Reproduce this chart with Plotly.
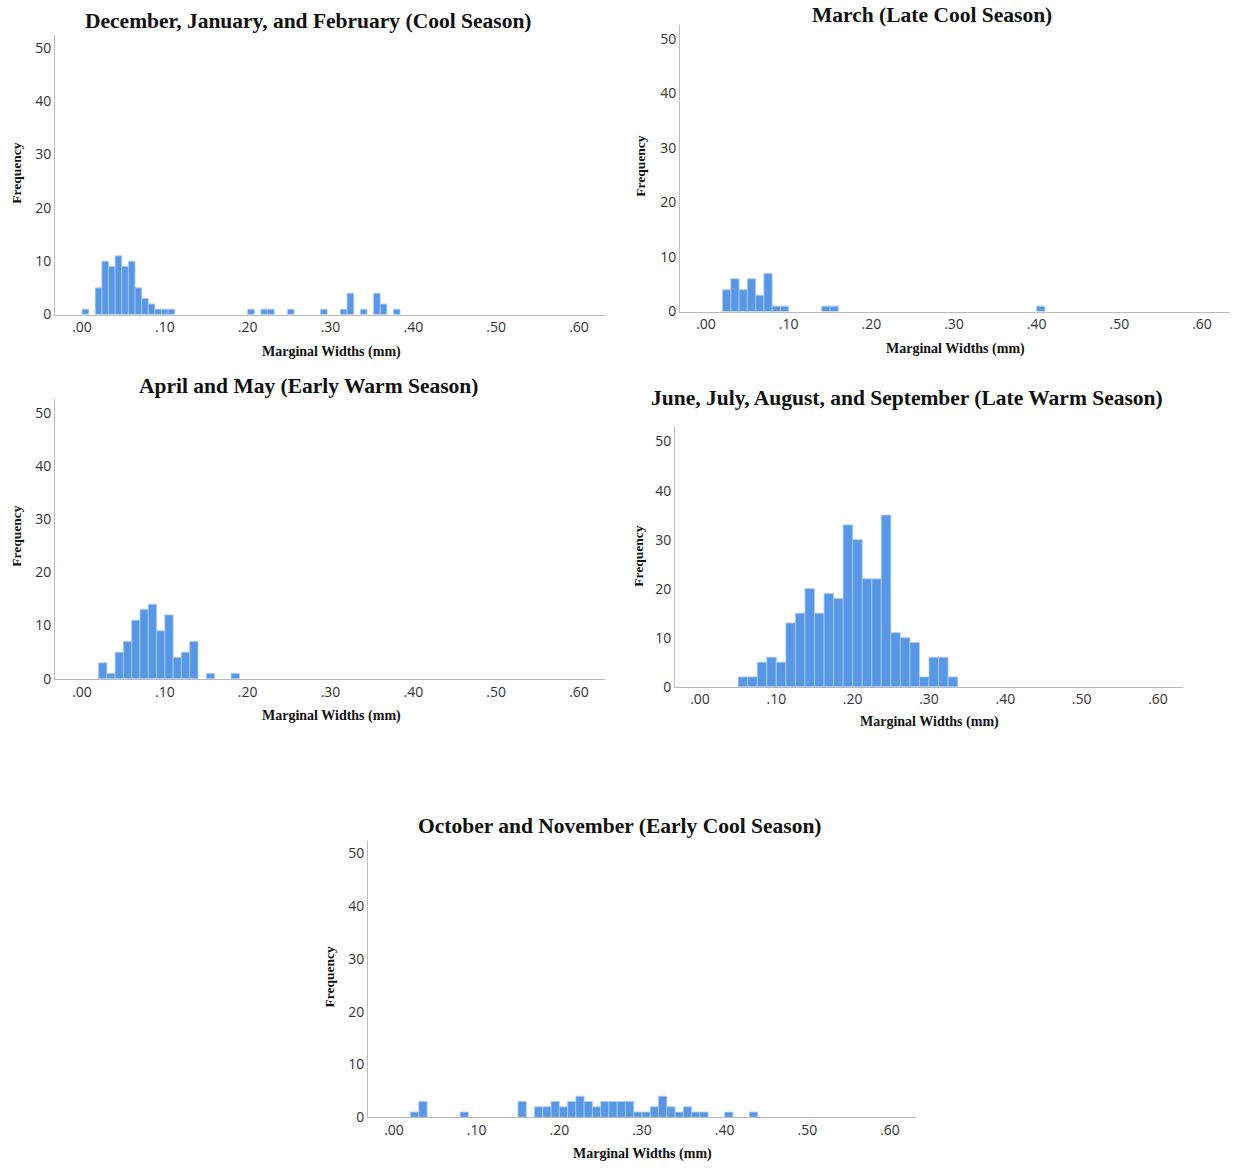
import plotly.graph_objects as go

# ---------------- data ----------------
tick_vals = [0.0, 0.1, 0.2, 0.3, 0.4, 0.5, 0.6]
tick_text = [".00", ".10", ".20", ".30", ".40", ".50", ".60"]
y_ticks = [0, 10, 20, 30, 40, 50]

titles = [
    "December, January, and February (Cool Season)",
    "March (Late Cool Season)",
    "April and May (Early Warm Season)",
    "June, July, August, and September (Late Warm Season)",
    "October and November (Early Cool Season)",
]
x_title = "Marginal Widths (mm)"
y_title = "Frequency"

# counts per bin, bins start at bin_start and have width bin_width
djf_start, djf_width = 0.0, 0.008
djf_counts = [1, 0, 5, 10, 9, 11, 9, 10, 5, 3, 2, 1, 1, 1,
              0, 0, 0, 0, 0, 0, 0, 0, 0, 0, 0,
              1, 0, 1, 1, 0, 0, 1, 0, 0, 0, 0, 1, 0, 0, 1, 4, 0, 1, 0, 4, 2, 0, 1]

mar_start, mar_width = 0.0, 0.01
mar_counts = [0, 0, 4, 6, 4, 6, 3, 7, 1, 1, 0, 0, 0, 0, 1, 1,
              0, 0, 0, 0, 0, 0, 0, 0, 0, 0, 0, 0, 0, 0, 0, 0, 0, 0, 0, 0, 0, 0, 0, 0, 1]

am_start, am_width = 0.0, 0.01
am_counts = [0, 0, 3, 1, 5, 7, 11, 13, 14, 9, 12, 4, 5, 7, 0, 1, 0, 0, 1]

jjas_start, jjas_width = 0.05, 0.0125
jjas_counts = [2, 2, 5, 6, 5, 13, 15, 20, 15, 19, 18, 33, 30, 22, 22, 35, 11, 10, 9, 2, 6, 6, 2]

on_start, on_width = 0.0, 0.01
on_counts = [0, 0, 1, 3, 0, 0, 0, 0, 1, 0, 0, 0, 0, 0, 0, 3, 0, 2, 2, 3, 2, 3, 4, 3, 2,
             3, 3, 3, 3, 1, 1, 2, 4, 2, 1, 2, 1, 1, 0, 0, 1, 0, 0, 1]

panels = [
    (djf_start, djf_width, djf_counts),
    (mar_start, mar_width, mar_counts),
    (am_start, am_width, am_counts),
    (jjas_start, jjas_width, jjas_counts),
    (on_start, on_width, on_counts),
]

# ---------------- layout (page pixel geometry) ----------------
W, H = 1233, 1171
boxes = [
    (55, 605, 35, 317),
    (680, 1230, 25, 314),
    (55, 605, 402, 684),
    (675, 1183, 430, 692),
    (368, 916, 848, 1126),
]
scales = [
    (82, 579, 48),
    (706, 1202, 39),
    (82, 579, 416),
    (700, 1158, 445),
    (394, 890, 860),
]
title_pos = [(308, 21), (932, 15), (308, 389), (907, 401), (620, 832)]
xt_pos = [(331, 355), (955, 352), (331, 722), (929, 728), (642, 1163)]
yt_pos = [(17, 175), (641, 168), (17, 541), (639, 561), (329, 985)]

bar_color = "#5897E6"
axis_color = "#BBBBBB"
serif = "Liberation Serif"
sans = "Open Sans"

fig = go.Figure()
layout = dict(width=W, height=H, margin=dict(l=0, r=0, t=0, b=0),
              paper_bgcolor="white", plot_bgcolor="white", showlegend=False,
              annotations=[])

def px2x(p):
    return p / W

def px2y(p):
    return 1 - p / H

for i, ((start, width, counts), box, sc) in enumerate(zip(panels, boxes, scales)):
    n = i + 1
    xs = [start + (k + 0.5) * width for k, c in enumerate(counts) if c > 0]
    ys = [c for c in counts if c > 0]
    fig.add_trace(go.Bar(
        x=xs, y=ys, width=width,
        marker=dict(color=bar_color, line=dict(color="#A9CBF3", width=0.8)),
        xaxis="x" if n == 1 else f"x{n}", yaxis="y" if n == 1 else f"y{n}",
        hoverinfo="x+y",
    ))
    xl, xr, yt, yb = box
    x0p, x6p, y50p = sc
    ppu = (x6p - x0p) / 0.6
    xrange = [(xl - x0p) / ppu, (xr - x0p) / ppu]
    ppy = (yb - y50p) / 50.0
    yrange = [0, (yb - yt) / ppy]
    xa = dict(domain=[px2x(xl), px2x(xr)], range=xrange, tickvals=tick_vals,
              ticktext=tick_text, showline=True, linecolor=axis_color, linewidth=1,
              showgrid=False, zeroline=False, ticks="",
              tickfont=dict(family=sans, size=14, color="#333333"),
              anchor="y" if n == 1 else f"y{n}")
    ya = dict(domain=[px2y(yb), px2y(yt)], range=yrange, tickvals=y_ticks,
              showline=True, linecolor=axis_color, linewidth=1,
              showgrid=False, zeroline=False, ticks="",
              tickfont=dict(family=sans, size=14, color="#333333"),
              anchor="x" if n == 1 else f"x{n}")
    layout["xaxis" if n == 1 else f"xaxis{n}"] = xa
    layout["yaxis" if n == 1 else f"yaxis{n}"] = ya

    tx, ty = title_pos[i]
    layout["annotations"].append(dict(
        text=f"<b>{titles[i]}</b>", x=px2x(tx), y=px2y(ty), xref="paper", yref="paper",
        showarrow=False, xanchor="center", yanchor="middle",
        font=dict(family=serif, size=21.5, color="#111111")))
    ax_, ay_ = xt_pos[i]
    layout["annotations"].append(dict(
        text=f"<b>{x_title}</b>", x=px2x(ax_), y=px2y(ay_), xref="paper", yref="paper",
        showarrow=False, xanchor="center", yanchor="middle",
        font=dict(family=serif, size=14, color="#111111")))
    bx, by = yt_pos[i]
    layout["annotations"].append(dict(
        text=f"<b>{y_title}</b>", x=px2x(bx), y=px2y(by), xref="paper", yref="paper",
        showarrow=False, xanchor="center", yanchor="middle", textangle=-90,
        font=dict(family=serif, size=13.5, color="#111111")))

fig.update_layout(**layout)
fig.write_html("out.html", config={"displayModeBar": False},
               post_script="document.body.style.margin='0';")
